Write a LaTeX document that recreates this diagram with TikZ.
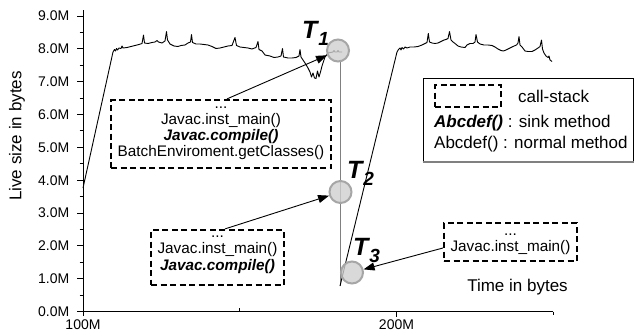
\documentclass[tikz,border=0pt]{standalone}
\usepackage{fontspec}
\setmainfont{Liberation Sans}
\usetikzlibrary{arrows.meta}

\begin{document}
\begin{tikzpicture}[x=1pt,y=-1pt,
  trace/.style={line width=0.9pt, black, line join=round},
  axisline/.style={line width=1pt, black},
  ticklabel/.style={font=\fontsize{14}{15}\selectfont, inner sep=0},
  callstack/.style={draw, line width=2.2pt, dash pattern=on 6pt off 3.5pt, inner sep=0},
  stacktext/.style={align=center, font=\fontsize{15.3}{16}\selectfont, inner sep=0},
  legendtext/.style={font=\fontsize{17}{19}\selectfont, inner sep=0, anchor=west},
  probe/.style={circle, draw=gray!70, line width=2pt, fill=gray!38, fill opacity=0.8,
                minimum size=22pt, inner sep=0},
  pointer/.style={-{Triangle[length=11pt,width=8pt]}, line width=0.9pt},
  tlabel/.style={font=\fontsize{25}{25}\selectfont\bfseries\itshape, inner sep=0, anchor=base west}
]
\useasboundingbox (0,0) rectangle (635,332);

% ---------- axes ----------
\draw[axisline] (83,316) -- (83,10);
\draw[axisline] (83,311.5) -- (553,311.5);
\foreach \v in {0,...,9}{
  \pgfmathsetmacro{\yy}{311.5-32.83*\v}
  \draw[axisline] (77,\yy) -- (83,\yy);
  \node[ticklabel, anchor=east] (ylab\v) at (69.5,\yy) {\v.0M};
}
\foreach \v in {0,...,8}{
  \pgfmathsetmacro{\yy}{311.5-32.83*(\v+0.5)}
  \draw[axisline] (79.5,\yy) -- (83,\yy);
}
\draw[axisline] (396.5,311.5) -- (396.5,317);
\draw[axisline] (239.7,311.5) -- (239.7,308);
\draw[axisline] (553,311.5) -- (553,315);
\node[ticklabel] (xlab100) at (83,325) {100M};
\node[ticklabel] (xlab200) at (396.5,325) {200M};

\node[font=\fontsize{17}{17}\selectfont, rotate=90, inner sep=0] (ytitle) at (17,136) {Live size in bytes};
\node[font=\fontsize{17}{17}\selectfont, inner sep=0] (xtitle) at (517.5,287) {Time in bytes};

% ---------- first run of the live-size trace ----------
\draw[trace] (83,188) -- (113,52)
  -- (114.5,49.5) -- (115.5,51) -- (116.5,48.5) -- (117.5,50) -- (119,48) -- (121,48.5)
  -- (122,46) -- (123,48) -- (127,47.5) -- (131,46.5) -- (135,45.5) -- (139,44.5)
  -- (142,43.5) -- (143.5,35) -- (144.5,43) -- (148,43.5) -- (152,42.5) -- (155,42)
  -- (157,40.5) -- (158.5,42) -- (162,43) -- (165,41) -- (166.5,31.5) -- (167.5,40)
  -- (170,44) -- (174,46) -- (178,46.5) -- (181,45.5) -- (185,45) -- (188,43)
  -- (190.5,42) -- (191.5,34.5) -- (192.5,42.5) -- (196,44) -- (200,44) -- (204,44.5)
  -- (208,45) -- (212,46.5) -- (216,48.5) -- (220,48) -- (224,47) -- (228,46)
  -- (232,45.5) -- (235,37.5) -- (236.5,45.5) -- (240,47) -- (244,47.5) -- (248,48)
  -- (252,49) -- (256,47.5) -- (258,41.5) -- (259,49.5) -- (262,51) -- (265,55)
  -- (270,56) -- (274,57.5) -- (278,57) -- (281,56) -- (282.5,48.5) -- (283.5,57)
  -- (288,58) -- (292,58) -- (296,57.5) -- (299,56) -- (300,49.5) -- (301,57)
  -- (303,60) -- (305,63) -- (308,68) -- (310,72) -- (311.5,77) -- (313,73)
  -- (314.5,78) -- (316,78.5) -- (317.5,71) -- (319,77) -- (320.5,72) -- (322,66)
  -- (325,57) -- (328,53) -- (333,52) -- (334,50.5) -- (335,52) -- (337,52)
  -- (338,50.5) -- (339,52) -- (342,52);

% ---------- second run of the trace ----------
\coordinate (dropTop) at (340,60);
\coordinate (dropEnd) at (340,286);
\draw[gray, line width=1pt] (dropTop) -- (dropEnd);
\draw[trace] (dropEnd) -- (397,52)
  -- (398.5,49.5) -- (400,48) -- (401,50) -- (402,47.5) -- (403.5,49) -- (405,47)
  -- (407,48) -- (410,47) -- (414,47) -- (418,46.5) -- (422,45) -- (425,43.5)
  -- (427,42.5) -- (428.3,33.5) -- (429.5,42) -- (432,43) -- (435,43.5) -- (438,43)
  -- (441,41.5) -- (444,40) -- (446,39.5) -- (448,38.5) -- (449.5,31.5) -- (451,40)
  -- (453,42) -- (455,43.5) -- (458,46) -- (461,47) -- (465,47.5) -- (467,45)
  -- (470,43.5) -- (473,43.5) -- (475,42) -- (476,34.5) -- (477.5,42) -- (480,44)
  -- (484,45) -- (488,45) -- (492,45.5) -- (495,47) -- (498,49) -- (501,50.5)
  -- (503.5,51) -- (506,50) -- (509,48.5) -- (513,46.5) -- (516.5,45) -- (518,43)
  -- (519,36.5) -- (520,45) -- (522,47) -- (525,51) -- (528,51.5) -- (532,51.5)
  -- (535,50) -- (538,48) -- (540,46.5) -- (541.5,40) -- (542.5,49) -- (544,53)
  -- (546,56) -- (548,57.5) -- (549,56) -- (550,60) -- (552,61.5);

% ---------- sampling points ----------
\node[probe] (c1) at (338,50.5) {};
\node[probe] (c2) at (340.5,192) {};
\node[probe] (c3) at (352,272.5) {};

\node[tlabel] (t1) at (302,38) {T\kern1pt\raisebox{-7pt}{\fontsize{19}{19}\selectfont 1}};
\node[tlabel] (t2) at (347,178) {T\kern1pt\raisebox{-7pt}{\fontsize{19}{19}\selectfont 2}};
\node[tlabel] (t3) at (353,255) {T\kern1pt\raisebox{-7pt}{\fontsize{19}{19}\selectfont 3}};

% ---------- call-stack boxes ----------
\node[callstack, minimum width=220pt, minimum height=68pt] (box1) at (221,134) {};
\node[stacktext] (box1txt) at (221,129)
  {\strut...\\\strut Javac.inst\_main()\\\strut{\bfseries\itshape Javac.compile()}\\\strut BatchEnviroment.getClasses()};

\node[callstack, minimum width=133pt, minimum height=55pt] (box2) at (217.5,257.5) {};
\node[stacktext, font=\fontsize{15.3}{14.5}\selectfont] (box2txt) at (217.5,251)
  {\strut...\\\strut Javac.inst\_main()\\\strut{\bfseries\itshape Javac.compile()}};

\node[callstack, minimum width=133pt, minimum height=38pt] (box3) at (510.5,242) {};
\node[stacktext] (box3txt) at (510.5,240.5)
  {\strut...\\\strut Javac.inst\_main()};

% ---------- pointers from call stacks to samples ----------
\draw[pointer] ([xshift=6pt]box1.north) -- (c1);
\draw[pointer] ([xshift=7.5pt]box2.north) -- (c2);
\draw[pointer] ([yshift=-6pt]box3.west) -- (c3);

% ---------- legend ----------
\node[draw, line width=1pt, fill=white, inner sep=0, minimum width=210pt, minimum height=83pt] (legend) at (528,119.5) {};
\draw[gray, line width=2pt] (legend.south west) -- (legend.south east);
\node[callstack, minimum width=66pt, minimum height=22pt] (legbox) at (468,96) {};
\node[legendtext] (legcs) at (518,96) {call-stack};
\node[legendtext] (legsink) at (434,123) {{\bfseries\itshape Abcdef()} : sink method};
\node[legendtext] (legnorm) at (434,144) {Abcdef() : normal method};
\end{tikzpicture}
\end{document}
